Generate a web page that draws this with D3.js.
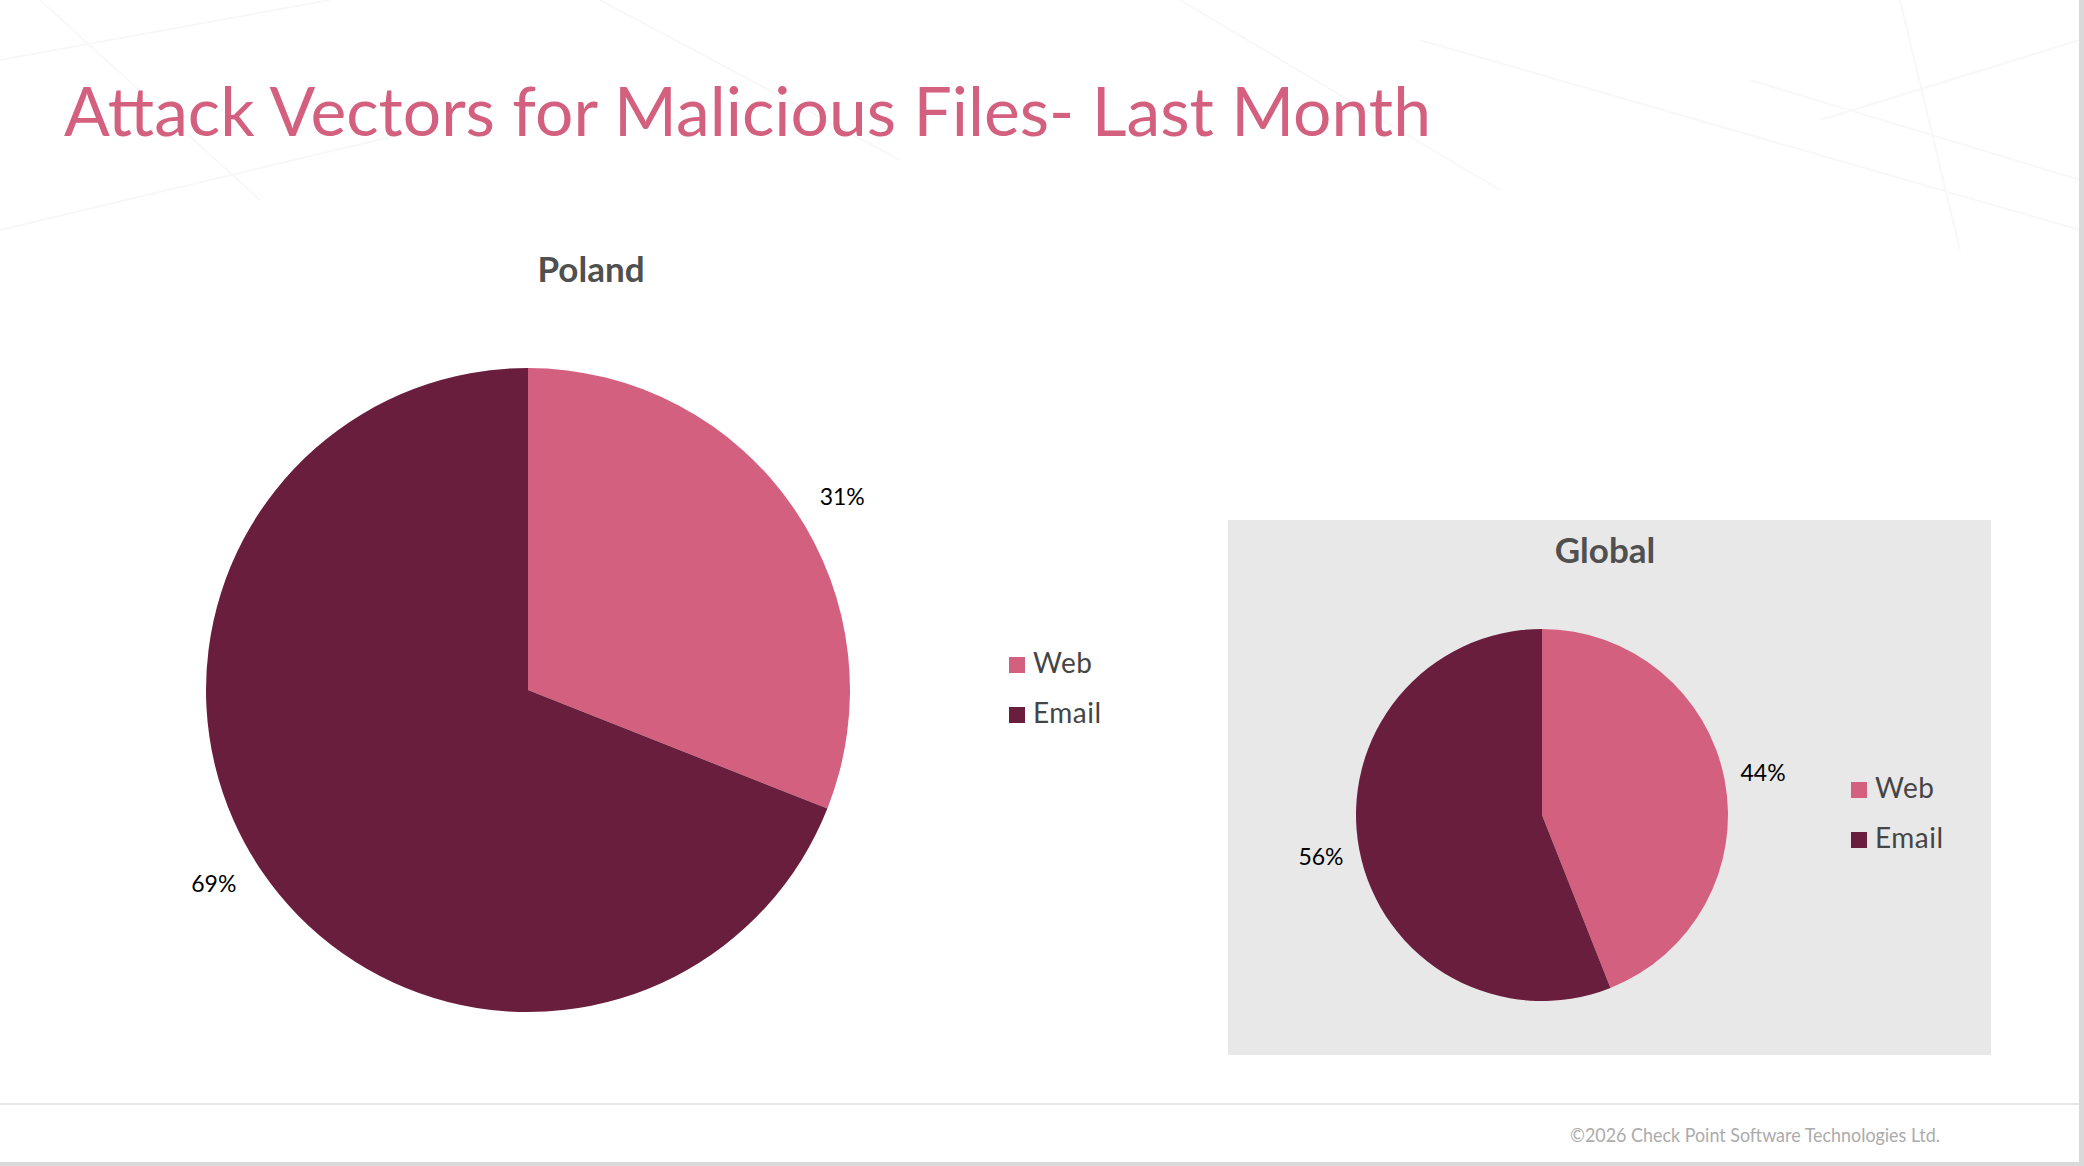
<!DOCTYPE html>
<html>
<head>
<meta charset="utf-8">
<script src="https://cdn.jsdelivr.net/npm/d3@7"></script>
<style>
  html, body { margin: 0; padding: 0; background: #ffffff; }
  svg { display: block; }
</style>
</head>
<body>
<svg id="chart" width="2084" height="1166"></svg>
<script>
// ---- data ----
const pageTitle = "Attack Vectors for Malicious Files- Last Month";
const footerText = "©2026 Check Point Software Technologies Ltd.";
const categories = ["Web", "Email"];
const polandTitle = "Poland";
const polandValues = [31, 69];
const globalTitle = "Global";
const globalValues = [44, 56];

// ---- styles ----
const colors = d3.scaleOrdinal().domain(categories).range(["#D4607F", "#6A1E3E"]);
const FONT = "Lato, 'Open Sans', 'Noto Sans', sans-serif";

const svg = d3.select("#chart");

// very faint background network lines
const bgLines = [[0,60,330,0],[40,0,260,200],[600,0,900,160],[1180,0,1500,190],[1420,40,2080,230],[1820,120,2080,40],[1900,0,1960,250],[1750,80,2080,180],[0,230,420,130]];
svg.append("g").selectAll("line").data(bgLines).join("line")
  .attr("x1", d => d[0]).attr("y1", d => d[1]).attr("x2", d => d[2]).attr("y2", d => d[3])
  .attr("stroke", "#f8f8f8").attr("stroke-width", 2);

// page title
svg.append("text")
  .attr("x", 64).attr("y", 136)
  .attr("font-family", FONT).attr("font-size", 67)
  .attr("fill", "#D4607F")
  .attr("textLength", 1367).attr("lengthAdjust", "spacingAndGlyphs")
  .text(pageTitle);

// global panel background
svg.append("rect")
  .attr("x", 1228).attr("y", 520).attr("width", 763).attr("height", 535)
  .attr("fill", "#E8E8E8");

function drawPie(cfg) {
  const g = svg.append("g");
  const pie = d3.pie().sort(null).value(d => d.value);
  const arcs = pie(categories.map((c, i) => ({ cat: c, value: cfg.values[i] })));
  const arc = d3.arc().innerRadius(0).outerRadius(cfg.r);

  const pg = g.append("g").attr("transform", `translate(${cfg.cx},${cfg.cy})`);
  pg.selectAll("path").data(arcs).join("path")
    .attr("d", arc)
    .attr("fill", d => colors(d.data.cat));
  pg.selectAll("text").data(arcs).join("text")
    .attr("transform", d => {
      const a = (d.startAngle + d.endAngle) / 2 + cfg.aoff;
      return `translate(${cfg.lr * Math.sin(a)},${-cfg.lr * Math.cos(a)})`;
    })
    .attr("text-anchor", "middle").attr("dy", "0.35em")
    .attr("font-family", FONT).attr("font-size", 23).attr("fill", "#000")
    .text(d => d.data.value + "%");

  g.append("text")
    .attr("x", cfg.tx).attr("y", cfg.ty)
    .attr("text-anchor", "middle")
    .attr("font-family", FONT).attr("font-weight", "bold").attr("font-size", 35)
    .attr("fill", "#505050")
    .text(cfg.title);

  const lg = g.append("g").attr("transform", `translate(${cfg.lx},${cfg.ly})`);
  const items = lg.selectAll("g").data(categories).join("g")
    .attr("transform", (d, i) => `translate(0,${i * 50})`);
  items.append("rect").attr("x", 0).attr("y", 0).attr("width", 16).attr("height", 16)
    .attr("fill", d => colors(d));
  items.append("text").attr("x", 24).attr("y", 16)
    .attr("font-family", FONT).attr("font-size", 28).attr("fill", "#454545")
    .attr("letter-spacing", 0.5)
    .text(d => d);
}

drawPie({ values: polandValues, title: polandTitle, cx: 528, cy: 690, r: 322, lr: 369, aoff: 0.045,
          tx: 591, ty: 282, lx: 1009, ly: 657 });
drawPie({ values: globalValues, title: globalTitle, cx: 1542, cy: 815, r: 186, lr: 225, aoff: 0,
          tx: 1605, ty: 563, lx: 1851, ly: 782 });

// footer
svg.append("line").attr("x1", 0).attr("x2", 2079).attr("y1", 1104).attr("y2", 1104)
  .attr("stroke", "#e6e6e6").attr("stroke-width", 2);
svg.append("text")
  .attr("x", 1570).attr("y", 1142)
  .attr("font-family", FONT).attr("font-size", 19).attr("fill", "#ABABAB")
  .attr("textLength", 370).attr("lengthAdjust", "spacingAndGlyphs")
  .text(footerText);

// frame edges
svg.append("rect").attr("x", 2079).attr("y", 0).attr("width", 5).attr("height", 1166).attr("fill", "#D9D9D9");
svg.append("rect").attr("x", 0).attr("y", 1162).attr("width", 2084).attr("height", 4).attr("fill", "#D9D9D9");
</script>
</body>
</html>
